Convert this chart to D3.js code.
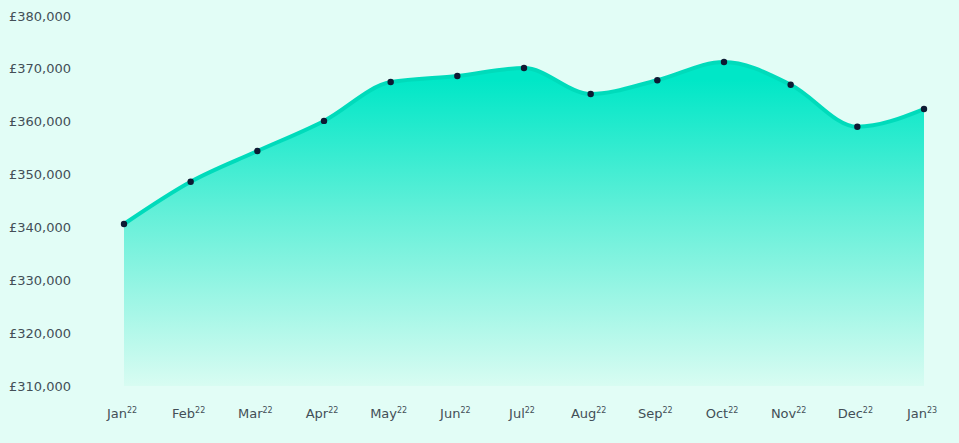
<!DOCTYPE html>
<html>
<head>
<meta charset="utf-8">
<script src="https://cdn.jsdelivr.net/npm/d3@7"></script>
<style>
  html, body { margin: 0; padding: 0; background: #e2fdf6; }
  svg { display: block; }
  .tick-label { font-family: "DejaVu Sans", sans-serif; fill: #434f57; }
</style>
</head>
<body>
<div id="chart"></div>
<script>
// monthly average price, Jan 22 -> Jan 23
var months = ['Jan', 'Feb', 'Mar', 'Apr', 'May', 'Jun', 'Jul', 'Aug', 'Sep', 'Oct', 'Nov', 'Dec', 'Jan'];
var years = ['22', '22', '22', '22', '22', '22', '22', '22', '22', '22', '22', '22', '23'];
var prices = [340650, 348650, 354450, 360150, 367500, 368650, 370150, 365250, 367850, 371300, 367000, 359050, 362400];
var yTicks = [310000, 320000, 330000, 340000, 350000, 360000, 370000, 380000];

var W = 959, H = 443;

var svg = d3.select('#chart').append('svg')
	.attr('width', W)
	.attr('height', H);

var x = d3.scalePoint()
	.domain(d3.range(months.length))
	.range([124, 924]);

var y = d3.scaleLinear()
	.domain([310000, 380000])
	.range([386, 16]);

// gradient under the curve
var grad = svg.append('defs').append('linearGradient')
	.attr('id', 'fade')
	.attr('x1', 0).attr('x2', 0)
	.attr('gradientUnits', 'userSpaceOnUse')
	.attr('y1', y(368000)).attr('y2', y(310000));
grad.append('stop').attr('offset', '0%').attr('stop-color', '#00e7c7');
grad.append('stop').attr('offset', '45%').attr('stop-color', '#66f0d9');
grad.append('stop').attr('offset', '100%').attr('stop-color', '#d8fcf2');

var data = prices.map(function(p, i) { return { i: i, v: p }; });

var area = d3.area()
	.curve(d3.curveMonotoneX)
	.x(function(d) { return x(d.i); })
	.y0(y(310000))
	.y1(function(d) { return y(d.v); });

var line = d3.line()
	.curve(d3.curveMonotoneX)
	.x(function(d) { return x(d.i); })
	.y(function(d) { return y(d.v); });

svg.append('path')
	.datum(data)
	.attr('d', area)
	.attr('fill', 'url(#fade)');

svg.append('path')
	.datum(data)
	.attr('d', line)
	.attr('fill', 'none')
	.attr('stroke', '#00dbbb')
	.attr('stroke-width', 4);

svg.selectAll('circle.pt')
	.data(data)
	.enter()
	.append('circle')
	.attr('class', 'pt')
	.attr('cx', function(d) { return x(d.i); })
	.attr('cy', function(d) { return y(d.v); })
	.attr('r', 3.2)
	.attr('fill', '#0e1a33');

// y axis labels, left aligned
var fmt = d3.format(',');
svg.selectAll('text.ylab')
	.data(yTicks)
	.enter()
	.append('text')
	.attr('class', 'tick-label ylab')
	.attr('x', 9)
	.attr('y', function(d) { return y(d); })
	.attr('dy', '0.35em')
	.style('font-size', '13px')
	.text(function(d) { return '£' + fmt(d); });

// x axis labels with superscript year
var xl = svg.selectAll('text.xlab')
	.data(months)
	.enter()
	.append('text')
	.attr('class', 'tick-label xlab')
	.attr('x', function(d, i) { return x(i) - 2; })
	.attr('y', 418)
	.attr('text-anchor', 'middle')
	.style('font-size', '13px');
xl.append('tspan').text(function(d) { return d; });
xl.append('tspan')
	.attr('dy', -5)
	.style('font-size', '8px')
	.text(function(d, i) { return years[i]; });
</script>
</body>
</html>
